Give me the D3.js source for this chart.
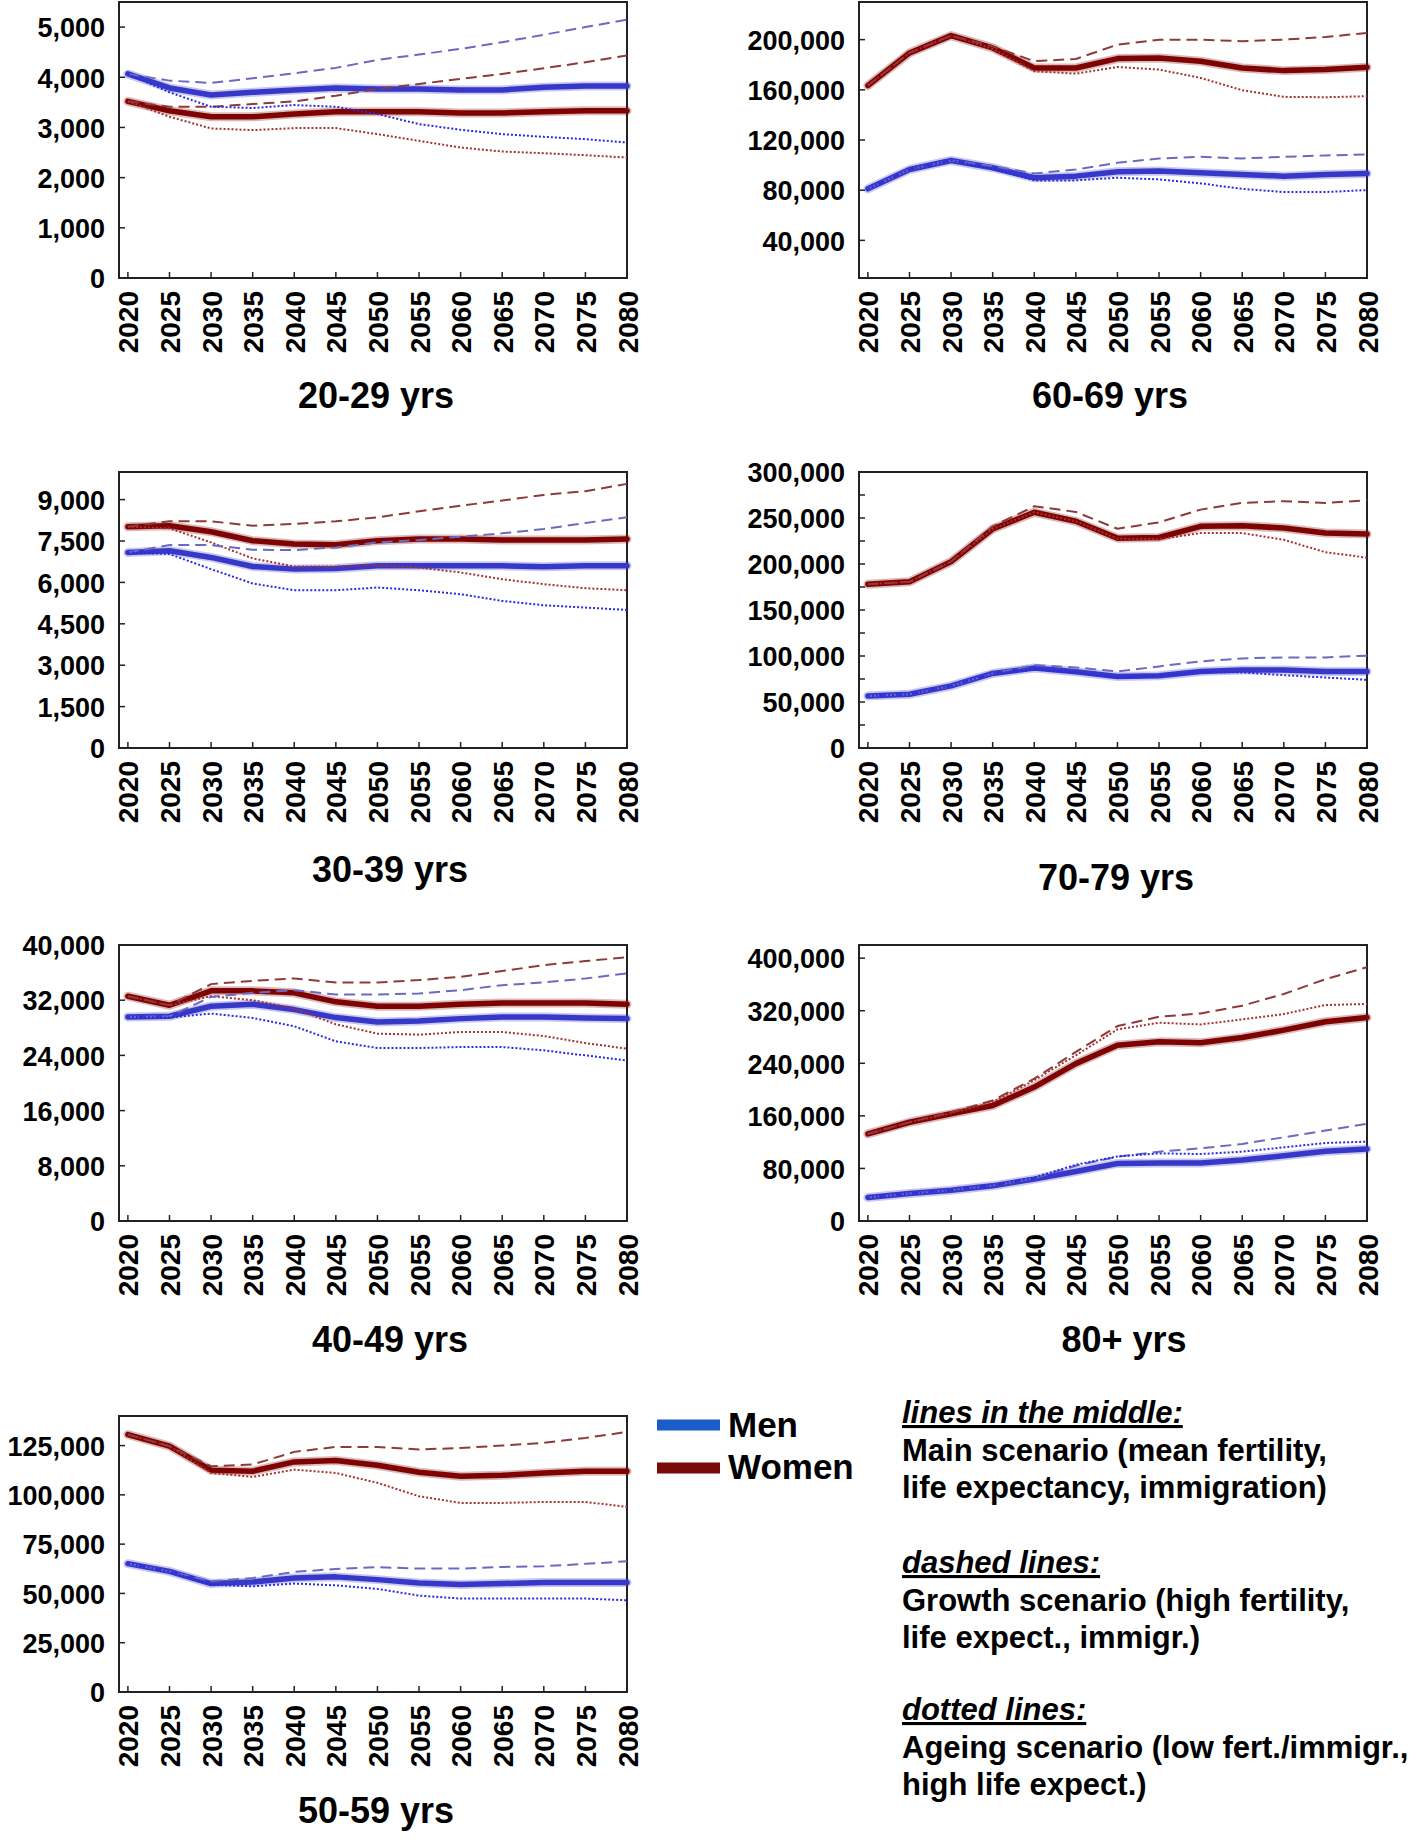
<!DOCTYPE html>
<html>
<head>
<meta charset="utf-8">
<script src="https://cdn.jsdelivr.net/npm/d3@7"></script>
<style>
  html, body { margin: 0; padding: 0; background: #fff; }
  svg { display: block; }
  text { font-family: "Liberation Sans", Arial, sans-serif; font-weight: bold; fill: #000; }
</style>
</head>
<body>
<svg id="chart" width="1416" height="1842"></svg>
<script>
// ---------- DATA ----------
const years = [2020,2025,2030,2035,2040,2045,2050,2055,2060,2065,2070,2075,2080];

// 20-29 yrs
const a20_men_main    = [4067,3787,3647,3700,3747,3787,3767,3767,3747,3747,3800,3827,3827];
const a20_men_growth  = [4067,3933,3887,3980,4080,4187,4347,4453,4567,4700,4847,5000,5147];
const a20_men_ageing  = [4067,3700,3413,3387,3447,3413,3267,3067,2953,2867,2813,2767,2700];
const a20_wom_main    = [3520,3333,3213,3213,3267,3313,3313,3313,3287,3287,3313,3333,3333];
const a20_wom_growth  = [3520,3413,3413,3467,3520,3633,3767,3867,3967,4067,4180,4300,4433];
const a20_wom_ageing  = [3520,3213,2980,2947,2987,2987,2867,2733,2600,2520,2487,2447,2400];

// 30-39 yrs
const a30_men_main    = [7086,7147,6905,6577,6481,6505,6602,6602,6602,6602,6565,6602,6602];
const a30_men_growth  = [7086,7353,7353,7183,7171,7268,7450,7535,7656,7777,7934,8152,8358];
const a30_men_ageing  = [7086,7026,6481,5960,5717,5717,5814,5717,5572,5330,5172,5088,5003];
const a30_wom_main    = [8019,8055,7837,7510,7389,7365,7510,7571,7571,7535,7535,7535,7571];
const a30_wom_growth  = [8019,8213,8213,8055,8116,8213,8358,8576,8782,8964,9170,9303,9570];
const a30_wom_ageing  = [8019,7958,7450,6868,6577,6577,6626,6541,6359,6117,5935,5790,5717];

// 40-49 yrs
const a40_men_main    = [29580,29670,31130,31420,30640,29480,28850,29000,29330,29580,29580,29430,29330];
const a40_men_growth  = [29580,29670,32480,33070,33450,32820,32820,32970,33450,34180,34570,35150,35880];
const a40_men_ageing  = [29580,29480,30060,29430,28220,26040,25070,25070,25210,25210,24730,24000,23270];
const a40_wom_main    = [32580,31270,33360,33360,33070,31760,31130,31130,31420,31610,31610,31610,31420];
const a40_wom_growth  = [32580,31270,34330,34810,35150,34570,34570,34910,35390,36220,37090,37670,38210];
const a40_wom_ageing  = [32580,31270,32580,32000,30790,28510,27150,27010,27390,27390,26810,25790,24970];

// 50-59 yrs
const a50_men_main    = [65100,61200,55000,55800,57800,58400,57000,55300,54500,55000,55600,55600,55600];
const a50_men_growth  = [65100,61200,56200,57800,60900,62400,63300,62600,62600,63400,63800,65000,66300];
const a50_men_ageing  = [65100,61200,54500,53600,55000,54100,52300,48900,47400,47400,47400,47400,46500];
const a50_wom_main    = [130600,124700,112500,112000,116700,117400,115000,111500,109400,109900,111100,112000,112000];
const a50_wom_growth  = [130600,124700,114500,115400,121800,124300,124300,123000,123800,125000,126400,128900,131900];
const a50_wom_ageing  = [130600,124700,111100,109100,112800,111100,106100,99300,95900,95900,96400,96400,93900];

// 60-69 yrs
const a60_men_main    = [81100,96500,103700,97900,89900,91200,94700,95200,93900,92500,91200,92500,93300];
const a60_men_growth  = [81100,96500,103700,99200,93300,96500,101800,105300,106600,105300,106600,107700,108500];
const a60_men_ageing  = [81100,96500,103700,97000,87800,87800,89900,88600,85400,81100,78500,78500,80100];
const a60_wom_main    = [163400,189400,203200,193400,177400,177400,184900,185400,182800,177400,175300,176100,178000];
const a60_wom_growth  = [163400,189400,203200,194700,182800,184600,196000,200000,200000,198700,200000,202100,205300];
const a60_wom_ageing  = [163400,189400,203200,192600,174800,172900,178200,176100,169500,159700,154400,154100,154900];

// 70-79 yrs
const a70_men_main    = [56600,58400,67500,81000,86900,82800,77700,78500,83200,84700,84700,83200,83200];
const a70_men_growth  = [56600,58400,67500,81000,90100,87600,83200,88700,94200,97400,98500,98500,100400];
const a70_men_ageing  = [56600,58400,67500,81000,85800,82100,76600,78500,82800,82100,79200,76600,74100];
const a70_wom_main    = [178100,180700,202600,238000,256200,246400,228100,228800,240900,241600,239100,233600,232500];
const a70_wom_growth  = [178100,180700,202600,240900,262800,256600,238300,245300,259100,266400,268200,266400,269300];
const a70_wom_ageing  = [178100,180700,202600,238000,256200,246400,227400,227000,233600,233600,226300,212800,206900];

// 80+ yrs
const a80_men_main    = [35700,41800,46900,53500,63700,75400,87600,88200,88200,92700,99400,106000,109600];
const a80_men_growth  = [35700,41800,46900,54000,65200,84100,97800,105500,110600,117200,127400,137600,147800];
const a80_men_ageing  = [35700,41800,46900,54000,66200,85600,98300,102900,101900,105500,112100,118700,120800];
const a80_wom_main    = [132500,150300,163100,175800,203800,239500,267500,272600,271100,279200,290400,303200,309800];
const a80_wom_growth  = [132500,150300,165600,183400,216600,257300,296600,310800,315900,327600,345500,367900,386200];
const a80_wom_ageing  = [132500,150300,164000,180900,214000,252200,291500,301700,299100,306800,314900,328700,330200];

// Titles and y tick labels
const titles = ["20-29 yrs","60-69 yrs","30-39 yrs","70-79 yrs","40-49 yrs","80+ yrs","50-59 yrs"];
const ticks20 = [0,1000,2000,3000,4000,5000];
const ticks60 = [40000,80000,120000,160000,200000];
const ticks30 = [0,1500,3000,4500,6000,7500,9000];
const ticks70 = [0,50000,100000,150000,200000,250000,300000];
const minor70 = [0,25000,50000,75000,100000,125000,150000,175000,200000,225000,250000,275000,300000];
const ticks40 = [0,8000,16000,24000,32000,40000];
const ticks80 = [0,80000,160000,240000,320000,400000];
const ticks50 = [0,25000,50000,75000,100000,125000];

const legendLabels = ["Men","Women"];
const noteHeaders = ["lines in the middle:","dashed lines:","dotted lines:"];
const noteBodies = [
  ["Main scenario (mean fertility,","life expectancy, immigration)"],
  ["Growth scenario (high fertility,","life expect., immigr.)"],
  ["Ageing scenario (low fert./immigr.,","high life expect.)"]
];

// ---------- LAYOUT ----------
const panels = [
  {title: titles[0], x0:119, y0:2,    dom:[0,5500],      ticks:ticks20, minor:null, tx:376,  ty:408,
   m:[a20_men_main,a20_men_growth,a20_men_ageing], w:[a20_wom_main,a20_wom_growth,a20_wom_ageing]},
  {title: titles[1], x0:859, y0:2,    dom:[10000,230000],ticks:ticks60, minor:null, tx:1110, ty:408,
   m:[a60_men_main,a60_men_growth,a60_men_ageing], w:[a60_wom_main,a60_wom_growth,a60_wom_ageing]},
  {title: titles[2], x0:119, y0:472,  dom:[0,10000],     ticks:ticks30, minor:null, tx:390,  ty:882,
   m:[a30_men_main,a30_men_growth,a30_men_ageing], w:[a30_wom_main,a30_wom_growth,a30_wom_ageing]},
  {title: titles[3], x0:859, y0:472,  dom:[0,300000],    ticks:ticks70, minor:minor70, tx:1116, ty:890,
   m:[a70_men_main,a70_men_growth,a70_men_ageing], w:[a70_wom_main,a70_wom_growth,a70_wom_ageing]},
  {title: titles[4], x0:119, y0:945,  dom:[0,40000],     ticks:ticks40, minor:null, tx:390,  ty:1352,
   m:[a40_men_main,a40_men_growth,a40_men_ageing], w:[a40_wom_main,a40_wom_growth,a40_wom_ageing]},
  {title: titles[5], x0:859, y0:945,  dom:[0,420000],    ticks:ticks80, minor:null, tx:1124, ty:1352,
   m:[a80_men_main,a80_men_growth,a80_men_ageing], w:[a80_wom_main,a80_wom_growth,a80_wom_ageing]},
  {title: titles[6], x0:119, y0:1416, dom:[0,140000],    ticks:ticks50, minor:null, tx:376,  ty:1823,
   m:[a50_men_main,a50_men_growth,a50_men_ageing], w:[a50_wom_main,a50_wom_growth,a50_wom_ageing]}
];
const PW = 508, PH = 276;

const colors = {
  men:   {main:"#3838c8", growth:"#6a6ac0", ageing:"#2a2ae6"},
  women: {main:"#7e0303", growth:"#8e3a3a", ageing:"#a83030"}
};

const svg = d3.select("#chart");
const fmt = d3.format(",");

panels.forEach(p => {
  const g = svg.append("g").attr("transform", `translate(${p.x0},${p.y0})`);
  const x = d3.scaleLinear().domain([2018.93, 2080]).range([0, PW]);
  const y = d3.scaleLinear().domain(p.dom).range([PH, 0]);

  // frame
  g.append("rect").attr("x",0).attr("y",0).attr("width",PW).attr("height",PH)
    .attr("fill","none").attr("stroke","#222").attr("stroke-width",2);

  // y axis
  const yAxis = d3.axisLeft(y).tickValues(p.ticks).tickFormat(fmt).tickSize(0).tickPadding(14);
  const ya = g.append("g").call(yAxis);
  ya.select(".domain").remove();
  ya.selectAll("text").style("font-size","27px").attr("dy","0.36em");
  // inward y ticks
  const yt = p.minor || p.ticks;
  g.selectAll(".ytick").data(yt.filter(v => v > p.dom[0] && v < p.dom[1])).enter().append("line")
    .attr("x1",0).attr("x2",6).attr("y1",d=>y(d)).attr("y2",d=>y(d))
    .attr("stroke","#222").attr("stroke-width",1.5);

  // x axis
  const xAxis = d3.axisBottom(x).tickValues(years).tickFormat(d3.format("d")).tickSize(0).tickPadding(0);
  const xa = g.append("g").attr("transform",`translate(0,${PH})`).call(xAxis);
  xa.select(".domain").remove();
  xa.selectAll("text")
    .style("font-size","28px")
    .attr("text-anchor","end")
    .attr("transform","translate(0,13) rotate(-90)")
    .attr("x",0).attr("y",0).attr("dy","0.36em");
  g.selectAll(".xtick").data(years).enter().append("line")
    .attr("x1",d=>x(d)).attr("x2",d=>x(d)).attr("y1",PH).attr("y2",PH-6)
    .attr("stroke","#222").attr("stroke-width",1.5);

  // title
  svg.append("text").attr("x",p.tx).attr("y",p.ty).attr("text-anchor","middle")
    .style("font-size","36px").text(p.title);

  const line = d3.line().x((d,i)=>x(years[i])).y(d=>y(d));

  // main lines with halo
  [["women",p.w],["men",p.m]].forEach(([k,arr]) => {
    g.append("path").attr("d",line(arr[0])).attr("fill","none")
      .attr("stroke",colors[k].main).attr("stroke-opacity",0.28).attr("stroke-width",9)
      .attr("stroke-linejoin","round").attr("stroke-linecap","round");
    g.append("path").attr("d",line(arr[0])).attr("fill","none")
      .attr("stroke",colors[k].main).attr("stroke-width",5.5)
      .attr("stroke-linejoin","round").attr("stroke-linecap","round");
  });
  // growth (dashed) and ageing (dotted)
  [["women",p.w],["men",p.m]].forEach(([k,arr]) => {
    g.append("path").attr("d",line(arr[1])).attr("fill","none")
      .attr("stroke",colors[k].growth).attr("stroke-width",2)
      .attr("stroke-linejoin","round")
      .attr("stroke-dasharray","11,6");
    g.append("path").attr("d",line(arr[2])).attr("fill","none")
      .attr("stroke",colors[k].ageing).attr("stroke-width",2)
      .attr("stroke-linejoin","round")
      .attr("stroke-dasharray","2,2");
  });
});

// ---------- LEGEND ----------
const legColors = ["#1c5cc8","#7a0a0a"];
const leg = svg.append("g");
legendLabels.forEach((lab,i) => {
  const yy = [1425, 1468][i];
  leg.append("rect").attr("x",657).attr("y",yy-5.5).attr("width",63).attr("height",11)
    .attr("fill",legColors[i]);
  leg.append("text").attr("x",728).attr("y",[1437,1479][i]).style("font-size","35px").text(lab);
});

// ---------- NOTES ----------
const noteBase = [1423, 1573, 1720];
noteHeaders.forEach((h,i) => {
  svg.append("text").attr("x",902).attr("y",noteBase[i])
    .style("font-size","31px").style("font-style","italic")
    .style("text-decoration","underline").text(h);
  noteBodies[i].forEach((line,j) => {
    svg.append("text").attr("x",902).attr("y",noteBase[i] + 38 + j*37)
      .style("font-size","31px").text(line);
  });
});
</script>
</body>
</html>
